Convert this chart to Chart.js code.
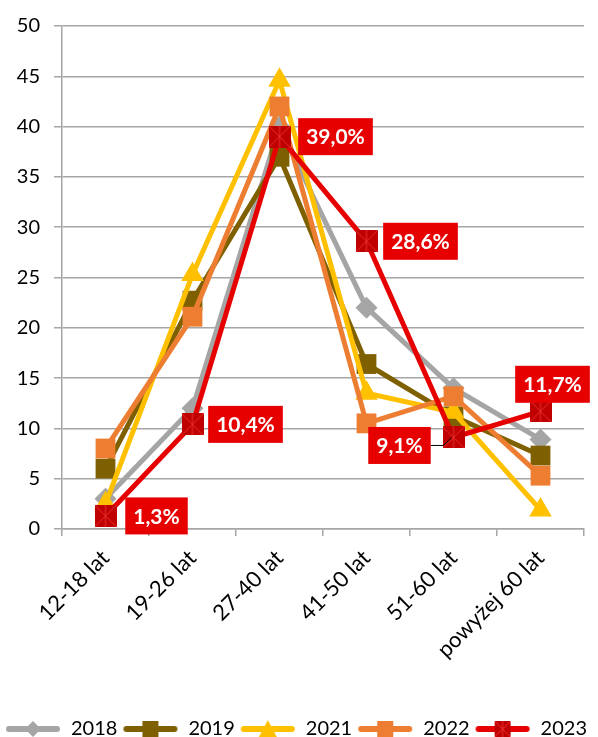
<!DOCTYPE html>
<html>
<head>
<meta charset="utf-8">
<script src="https://cdn.jsdelivr.net/npm/chart.js@4.4.1/dist/chart.umd.min.js"></script>
<style>
  html, body { margin: 0; padding: 0; background: #fff; }
  #wrap { width: 598px; height: 737px; }
</style>
</head>
<body>
<div id="wrap"><canvas id="myChart" width="598" height="737"></canvas></div>
<script>
// categories and values
const categories = ['12-18 lat', '19-26 lat', '27-40 lat', '41-50 lat', '51-60 lat', 'powyżej 60 lat'];
const years = ['2018', '2019', '2021', '2022', '2023'];
const values2018 = [3.0, 12.0, 40.0, 22.0, 14.0, 8.9];
const values2019 = [6.0, 22.7, 37.0, 16.4, 11.2, 7.3];
const values2021 = [2.5, 25.3, 44.6, 13.5, 11.6, 1.9];
const values2022 = [8.0, 21.1, 42.0, 10.5, 13.2, 5.3];
const values2023 = [1.3, 10.4, 39.0, 28.6, 9.1, 11.7];
const labels2023 = ['1,3%', '10,4%', '39,0%', '28,6%', '9,1%', '11,7%'];
const yTicks = [0, 5, 10, 15, 20, 25, 30, 35, 40, 45, 50];

const FONT = 'Lato, "Liberation Sans", sans-serif';
const BOTTOM_PAD = -12;

// red square marker with a cross, like the excel one
function redMarker(size) {
    let c = document.createElement('canvas');
    c.width = size; c.height = size;
    let g = c.getContext('2d');
    g.fillStyle = '#C00000';
    g.fillRect(0, 0, size, size);
    g.strokeStyle = '#E83030';
    g.lineWidth = 1;
    g.beginPath();
    g.moveTo(0, 0); g.lineTo(size, size);
    g.moveTo(size, 0); g.lineTo(0, size);
    g.moveTo(size / 2, 0); g.lineTo(size / 2, size);
    g.stroke();
    return c;
}

// legend symbol: line segment with marker in the middle
function legendSymbol(color, style) {
    let w = 56, h = 20;
    let c = document.createElement('canvas');
    c.width = w; c.height = h;
    let g = c.getContext('2d');
    g.strokeStyle = color;
    g.lineWidth = 6;
    g.lineCap = 'round';
    g.beginPath();
    g.moveTo(4, h / 2); g.lineTo(w - 4, h / 2);
    g.stroke();
    g.fillStyle = color;
    let cx = w / 2, cy = h / 2;
    if (style === 'diamond') {
        g.beginPath();
        g.moveTo(cx, cy - 8); g.lineTo(cx + 8, cy); g.lineTo(cx, cy + 8); g.lineTo(cx - 8, cy);
        g.closePath(); g.fill();
    } else if (style === 'square') {
        g.fillRect(cx - 8, cy - 8, 16, 16);
    } else if (style === 'triangle') {
        g.beginPath();
        g.moveTo(cx, cy - 9); g.lineTo(cx + 9, cy + 8); g.lineTo(cx - 9, cy + 8);
        g.closePath(); g.fill();
    } else if (style === 'red') {
        g.drawImage(redMarker(16), cx - 8, cy - 8);
    }
    return c;
}

const seriesColors = ['#A5A5A5', '#7F6000', '#FFC000', '#ED7D31', '#E60000'];
const seriesShapes = ['diamond', 'square', 'triangle', 'square', 'red'];

function makeDataset(i, data, pointStyle, radius) {
    return {
        label: years[i],
        data: data,
        borderColor: seriesColors[i],
        backgroundColor: seriesColors[i],
        borderWidth: 5,
        pointStyle: pointStyle,
        pointRadius: radius,
        pointHoverRadius: radius,
        pointBorderWidth: 0,
        pointBackgroundColor: seriesColors[i],
        tension: 0,
        order: 5 - i
    };
}

// red data labels for 2023 (offset of box centre from the point)
const labelOffsets = [[51, 0], [53, 0], [56, 0], [54, 0], [-54, 8], [12, -27]];
const labelPlugin = {
    id: 'redLabels',
    afterDatasetsDraw(chart) {
        let ctx = chart.ctx;
        let meta = chart.getDatasetMeta(4);
        ctx.save();
        ctx.font = 'bold 21px ' + FONT;
        ctx.textAlign = 'center';
        ctx.textBaseline = 'middle';
        meta.data.forEach(function (pt, i) {
            let txt = labels2023[i];
            let w = ctx.measureText(txt).width + 16;
            let h = 37;
            let cx = pt.x + labelOffsets[i][0];
            let cy = pt.y + labelOffsets[i][1];
            if (i === 4) {
                ctx.strokeStyle = '#000';
                ctx.lineWidth = 1;
                ctx.beginPath();
                ctx.moveTo(cx + w / 2, cy);
                ctx.lineTo(pt.x - 10, cy);
                ctx.lineTo(pt.x - 2, pt.y);
                ctx.stroke();
            }
            ctx.fillStyle = '#E60000';
            ctx.fillRect(cx - w / 2, cy - h / 2, w, h);
            ctx.fillStyle = '#FFFFFF';
            ctx.fillText(txt, cx, cy + 1);
        });
        ctx.restore();
    }
};

let ctx = document.getElementById('myChart').getContext('2d');
let chart = new Chart(ctx, {
    type: 'line',
    data: {
        labels: categories,
        datasets: [
            makeDataset(0, values2018, 'rectRot', 11),
            makeDataset(1, values2019, 'rect', 14),
            makeDataset(2, values2021, 'triangle', 13),
            makeDataset(3, values2022, 'rect', 14),
            makeDataset(4, values2023, redMarker(22), 11)
        ]
    },
    options: {
        responsive: false,
        animation: false,
        layout: { padding: { left: 0, right: 6, top: 7, bottom: BOTTOM_PAD } },
        plugins: {
            tooltip: { enabled: false },
            legend: {
                position: 'bottom',
                labels: {
                    usePointStyle: true,
                    pointStyleWidth: 56,
                    boxHeight: 20,
                    color: '#000',
                    font: { family: FONT, size: 20 },
                    padding: 5,
                    generateLabels(chart) {
                        return chart.data.datasets.map(function (ds, i) {
                            return {
                                text: ds.label,
                                pointStyle: legendSymbol(seriesColors[i], seriesShapes[i]),
                                fillStyle: seriesColors[i],
                                strokeStyle: seriesColors[i],
                                lineWidth: 0,
                                hidden: false,
                                datasetIndex: i
                            };
                        });
                    }
                }
            }
        },
        scales: {
            x: {
                offset: true,
                afterFit(scale) {
                    // keep the plot bottom where the reference has it
                    scale.height = scale.chart.height - 529 - scale.chart.legend.height - BOTTOM_PAD;
                },
                grid: {
                    offset: true,
                    drawOnChartArea: false,
                    drawTicks: true,
                    tickLength: 7,
                    color: '#A6A6A6',
                    lineWidth: 1.5
                },
                border: { color: '#A6A6A6', width: 1.5 },
                ticks: {
                    color: '#000',
                    font: { family: FONT, size: 22 },
                    maxRotation: 45,
                    minRotation: 45,
                    padding: 9
                }
            },
            y: {
                min: 0,
                max: 50,
                afterBuildTicks(scale) {
                    scale.ticks = yTicks.map(function (v) { return { value: v }; });
                },
                afterFit(scale) {
                    scale.width = 62;
                },
                grid: {
                    color: '#A6A6A6',
                    lineWidth: 1.5,
                    tickLength: 8
                },
                border: { color: '#A6A6A6', width: 1.5 },
                ticks: {
                    color: '#000',
                    font: { family: FONT, size: 20 },
                    padding: 14
                }
            }
        }
    },
    plugins: [labelPlugin]
});
</script>
</body>
</html>
